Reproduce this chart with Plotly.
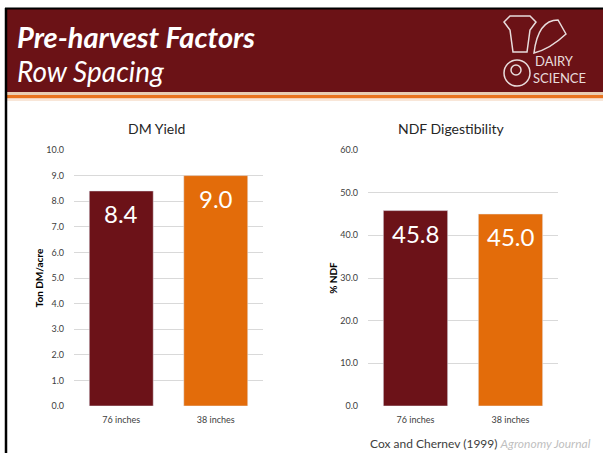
import plotly.graph_objects as go

categories = ["76 inches", "38 inches"]
dm_yield = [8.4, 9.0]
ndf_dig = [45.8, 45.0]
dm_ticks = [0, 1, 2, 3, 4, 5, 6, 7, 8, 9, 10]
ndf_ticks = [0, 10, 20, 30, 40, 50, 60]
bar_colors = ["#6C1218", "#E36C0A"]

W, H = 603, 453
def px(x): return x / W
def py(y): return 1 - y / H

FONT = "Lato, Carlito, Calibri, sans-serif"

fig = go.Figure()
fig.add_trace(go.Bar(x=categories, y=dm_yield, marker_color=bar_colors,
                     xaxis="x", yaxis="y", showlegend=False, hoverinfo="skip"))
fig.add_trace(go.Bar(x=categories, y=ndf_dig, marker_color=bar_colors,
                     xaxis="x2", yaxis="y2", showlegend=False, hoverinfo="skip"))

axis_common = dict(showline=False, zeroline=False, ticks="", automargin=False,
                   tickfont=dict(family=FONT, size=9, color="#404040"))
yd = [py(406), py(150)]
fig.update_layout(
    width=W, height=H, margin=dict(l=0, r=0, t=0, b=0, pad=0, autoexpand=False),
    paper_bgcolor="white", plot_bgcolor="white", bargap=0.323,
    font=dict(family=FONT),
    xaxis=dict(domain=[px(74), px(263)], anchor="y", showgrid=False, ticklabelstandoff=7, **axis_common),
    yaxis=dict(domain=yd, anchor="x", range=[0, 10], tickvals=dm_ticks, ticklabelstandoff=9,
               tickformat=".1f", showgrid=True, gridcolor="#D9D9D9", gridwidth=1.3,
               title=dict(text="<b>Ton DM/acre</b>", font=dict(family=FONT, size=10, color="#000"), standoff=0),
               **axis_common),
    xaxis2=dict(domain=[px(368), px(558)], anchor="y2", showgrid=False, ticklabelstandoff=7, **axis_common),
    yaxis2=dict(domain=yd, anchor="x2", range=[0, 60], tickvals=ndf_ticks, ticklabelstandoff=9,
                tickformat=".1f", showgrid=True, gridcolor="#D9D9D9", gridwidth=1.3,
                title=dict(text="<b>% NDF</b>", font=dict(family=FONT, size=10, color="#000"), standoff=0),
                **axis_common),
)

# value labels inside bars
for xa, ya, vals in [("x", "y", dm_yield), ("x2", "y2", ndf_dig)]:
    for c, v in zip(categories, vals):
        fig.add_annotation(x=c, y=v, xref=xa, yref=ya, text=f"{v:.1f}",
                           showarrow=False, xanchor="center", yanchor="top", yshift=-6,
                           font=dict(family=FONT, size=24, color="white"))

def note(x, y, text, size, color, xanchor="center"):
    fig.add_annotation(x=px(x), y=py(y), xref="paper", yref="paper", text=text,
                       showarrow=False, xanchor=xanchor, yanchor="middle",
                       font=dict(family=FONT, size=size, color=color))

# chart titles
note(156, 128, "DM Yield", 14, "#262626")
note(451, 128, "NDF Digestibility", 14, "#262626")

# citation
note(368, 443, "Cox and Chernev (1999) <i><span style='color:#BFBFBF'>Agronomy Journal</span></i>",
     12, "#404040", xanchor="left")

shapes = []
# header band
shapes.append(dict(type="rect", xref="paper", yref="paper", x0=px(6), x1=1, y0=py(92), y1=py(9),
                   fillcolor="#6B1216", line_width=0, layer="below"))
shapes.append(dict(type="line", xref="paper", yref="paper", x0=px(5), x1=1, y0=py(8.5), y1=py(8.5),
                   line=dict(color="black", width=2)))
shapes.append(dict(type="rect", xref="paper", yref="paper", x0=px(6), x1=1, y0=py(95), y1=py(92),
                   fillcolor="#E9CDB2", line_width=0))
shapes.append(dict(type="rect", xref="paper", yref="paper", x0=px(6), x1=1, y0=py(98.5), y1=py(95),
                   fillcolor="#E8731E", line_width=0))
shapes.append(dict(type="rect", xref="paper", yref="paper", x0=px(6), x1=1, y0=py(101), y1=py(98.5),
                   fillcolor="#F8E6D8", line_width=0))
# left border
shapes.append(dict(type="line", xref="paper", yref="paper", x0=px(6), x1=px(6), y0=0, y1=py(8),
                   line=dict(color="black", width=2.5)))
# logo sketch
lc = "#E8DCDC"
shapes.append(dict(type="path", xref="paper", yref="paper",
                   path=f"M {px(504)},{py(22)} L {px(510)},{py(16)} L {px(530)},{py(16)} L {px(536)},{py(22)} "
                        f"L {px(530)},{py(30)} L {px(527)},{py(52)} L {px(513)},{py(52)} L {px(510)},{py(30)} Z",
                   line=dict(color=lc, width=1.5), fillcolor="rgba(0,0,0,0)"))
shapes.append(dict(type="path", xref="paper", yref="paper",
                   path=f"M {px(534)},{py(53)} Q {px(538)},{py(20)} {px(558)},{py(20)} "
                        f"L {px(566)},{py(34)} Q {px(550)},{py(49)} {px(534)},{py(53)} Z",
                   line=dict(color=lc, width=1.5), fillcolor="rgba(0,0,0,0)"))
shapes.append(dict(type="circle", xref="paper", yref="paper", x0=px(504), x1=px(530), y0=py(86), y1=py(60),
                   line=dict(color=lc, width=1.5)))
shapes.append(dict(type="circle", xref="paper", yref="paper", x0=px(511), x1=px(521), y0=py(75), y1=py(65),
                   line=dict(color=lc, width=1.5)))
fig.update_layout(shapes=shapes)

note(15, 37, "<b><i>Pre-harvest Factors</i></b>", 29, "white", xanchor="left")
note(15, 71, "<i>Row Spacing</i>", 28, "white", xanchor="left")
note(533, 61, "DAIRY", 13, lc, xanchor="left")
note(531, 78, "SCIENCE", 13, lc, xanchor="left")

fig.write_html("out.html")
